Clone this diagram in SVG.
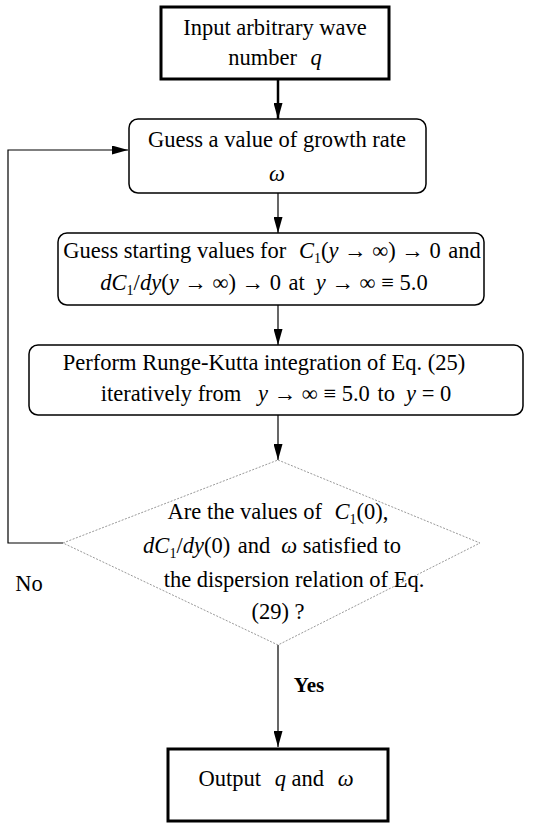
<svg xmlns="http://www.w3.org/2000/svg" width="543" height="825" viewBox="0 0 543 825">
<style>
text{font-family:"Liberation Serif","Times New Roman",serif;font-size:22.5px;fill:#000;text-anchor:middle}
.i{font-style:italic}
.s{font-size:14px}
.b{font-weight:bold;font-size:21px}
.thick{fill:#fff;stroke:#000;stroke-width:3}
.rnd{fill:#fff;stroke:#000;stroke-width:1.5}
.dia{fill:none;stroke:#999;stroke-width:1;stroke-dasharray:2 1.5}
.ln{fill:none;stroke:#000;stroke-width:1.2}
</style>
<defs>
<marker id="ah2" viewBox="0 0 10 10" refX="10" refY="5" markerWidth="16" markerHeight="9" markerUnits="userSpaceOnUse" orient="auto" preserveAspectRatio="none">
<path d="M0,0 L10,5 L0,10 z" fill="#000"/>
</marker>
</defs>
<g id="connectors">
<line class="ln" x1="278" y1="79" x2="278" y2="119" style="stroke-width:2.5" marker-end="url(#ah2)"/>
<line class="ln" x1="278" y1="193" x2="278" y2="233" marker-end="url(#ah2)"/>
<line class="ln" x1="278" y1="305" x2="278" y2="345" marker-end="url(#ah2)"/>
<line class="ln" x1="278" y1="415" x2="278" y2="460" marker-end="url(#ah2)"/>
<line class="ln" x1="278" y1="645" x2="278" y2="747" marker-end="url(#ah2)"/>
<polyline class="ln" points="63,543 8,543 8,150 128,150" marker-end="url(#ah2)"/>
<text x="29" y="591">No</text>
<text class="b" x="309" y="692">Yes</text>
</g>
<g id="n1">
<rect class="thick" x="161" y="7" width="228" height="72"/>
<text x="275" y="35">Input arbitrary wave</text>
<text x="275" y="65">number <tspan class="i" dx="8">q</tspan></text>
</g>
<g id="n2">
<rect class="rnd" x="129" y="119" width="297" height="74" rx="9"/>
<text x="277" y="147">Guess a value of growth rate</text>
<text class="i" x="277" y="181">ω</text>
</g>
<g id="n3">
<rect class="rnd" x="58" y="233" width="426" height="72" rx="9"/>
<text x="272" y="258">Guess starting values for <tspan class="i" dx="7">C</tspan><tspan class="s" dy="5">1</tspan><tspan dy="-5">(</tspan><tspan class="i">y</tspan> → ∞) → 0 <tspan dx="2">and</tspan></text>
<text x="264" y="290"><tspan class="i">dC</tspan><tspan class="s" dy="5">1</tspan><tspan dy="-5">/</tspan><tspan class="i">dy</tspan>(<tspan class="i">y</tspan> → ∞) → 0 <tspan dx="2">at</tspan><tspan class="i" dx="11">y</tspan> → ∞ ≡ 5.0</text>
</g>
<g id="n4">
<rect class="rnd" x="29" y="345" width="494" height="70" rx="9"/>
<text x="264" y="370">Perform Runge-Kutta integration of Eq. (25)</text>
<text x="276" y="401">iteratively from <tspan class="i" dx="11">y</tspan> → ∞ ≡ 5.0 <tspan dx="2">to</tspan><tspan class="i" dx="11">y</tspan> = 0</text>
</g>
<g id="n5">
<polygon class="dia" points="278,460 480,543 278,645 63,543"/>
<text x="278" y="519">Are the values of <tspan class="i" dx="7">C</tspan><tspan class="s" dy="5">1</tspan><tspan dy="-5">(0),</tspan></text>
<text x="272" y="553"><tspan class="i">dC</tspan><tspan class="s" dy="5">1</tspan><tspan dy="-5">/</tspan><tspan class="i">dy</tspan>(0) <tspan dx="2">and</tspan><tspan class="i" dx="11">ω</tspan> satisfied to</text>
<text x="294" y="587">the dispersion relation of Eq.</text>
<text x="278" y="619">(29) ?</text>
</g>
<g id="n6">
<rect class="thick" x="168" y="749" width="220" height="72"/>
<text x="276" y="786">Output <tspan class="i" dx="8">q</tspan> and <tspan class="i" dx="8">ω</tspan></text>
</g>
</svg>
